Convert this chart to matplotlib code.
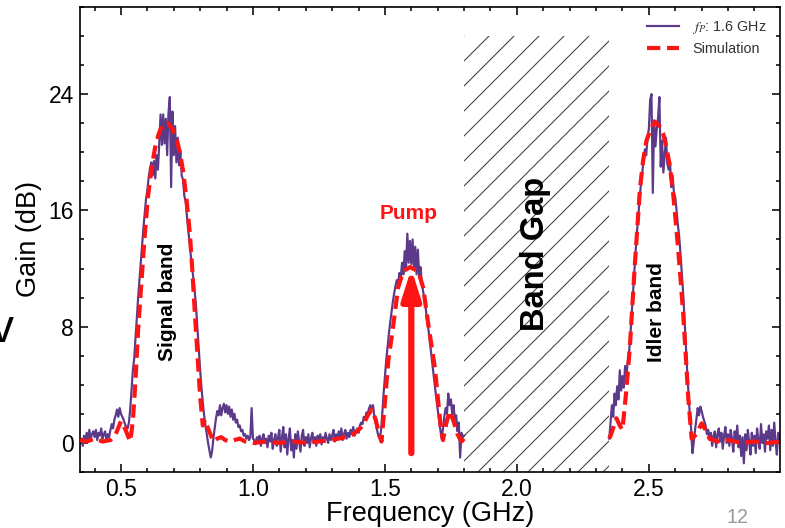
import numpy as np
import matplotlib.pyplot as plt
from matplotlib.patches import FancyArrowPatch
from matplotlib.ticker import MultipleLocator, FormatStrFormatter

plt.rcParams['font.family'] = ['Liberation Sans', 'DejaVu Sans']
plt.rcParams['mathtext.fontset'] = 'stix'
plt.rcParams['hatch.linewidth'] = 0.5

# measured gain, signal side + pump (0.345 .. 1.80 GHz, 5 MHz step)
meas_lo_start = 0.345
meas_lo = [
    0.1,
    0.3, -0.2, 0.5, 0.1, 0.7, 0.2, 0.9, 0.3, 0.6, 0.8,
    0.4, 0.9, 0.2, 0.7, 0.5, 1.0, 0.3, 0.6, 0.8, 0.2,
    0.6, 0.4, 0.9, 1.3, 1.0, 1.6, 1.9, 2.3, 1.8, 2.4,
    2.0, 1.8, 1.6, 1.3, 1.1, 1.0, 1.4, 2.3, 3.6, 5.0,
    5.8, 7.2, 8.6, 10.0, 11.2, 12.5, 13.6, 14.8, 15.8, 16.8,
    17.4, 18.3, 18.9, 19.3, 18.4, 19.4, 18.2, 19.8, 18.8, 20.6,
    22.6, 20.5, 22.6, 20.6, 22.3, 19.8, 22.7, 23.8, 17.6, 22.8,
    19.8, 21.8, 19.3, 21.0, 19.1, 20.0, 18.4, 18.1, 17.0, 16.6,
    15.6, 14.6, 13.8, 12.8, 12.0, 11.2, 10.3, 9.2, 7.8, 6.4,
    5.0, 3.8, 2.8, 1.9, 1.2, 0.6, 0.0, -0.5, -1.0, -0.6,
    0.3, 1.0, 1.7, 2.2, 1.9, 2.6, 1.9, 2.4, 2.7, 2.1,
    2.6, 2.0, 2.5, 1.8, 2.3, 1.6, 2.0, 1.4, 1.6, 1.1,
    1.2, 0.8, 0.9, 0.5, 0.6, 0.3, 0.5, 0.2, 0.4, 2.4,
    0.3, 0.2, -0.1, 0.4, 0.1, 0.5, -0.2, 0.3, 0.6, 0.0,
    0.3, -0.3, 0.5, 0.1, 0.7, -0.4, 0.2, 0.6, -0.2, 0.4,
    0.9, -0.6, 0.4, 1.1, -0.3, 0.6, -0.8, 0.3, 1.0, -0.5,
    0.2, -1.0, 0.6, -0.4, 0.8, 0.1, -0.6, 0.5, 0.9, -0.2,
    0.4, 0.0, 0.6, -0.3, 0.3, 0.7, 0.0, 0.4, -0.2, 0.5,
    0.2, 0.6, -0.1, 0.4, 0.1, 0.7, 0.3, 0.0, 0.6, 0.2,
    0.5, 0.9, 0.1, 0.6, 0.3, 0.8, 0.4, 1.0, 0.2, 0.6,
    0.9, 0.3, 0.7, 0.4, 0.9, 0.6, 1.1, 0.5, 0.8, 1.0,
    0.7, 1.2, 1.4, 1.3, 1.8, 1.6, 2.1, 2.0, 2.4, 2.6,
    2.3, 2.6, 1.8, 1.4, 0.9, 0.5, 0.3, 0.8, 2.0, 3.4,
    4.6, 5.7, 6.6, 7.5, 8.3, 9.0, 9.7, 10.3, 10.8, 11.2,
    11.0, 11.7, 11.4, 12.4, 11.6, 13.2, 12.0, 14.4, 12.4, 13.9,
    12.3, 14.0, 12.0, 13.5, 11.6, 13.3, 11.4, 12.1, 11.0, 10.4,
    9.9, 9.2, 8.4, 7.8, 7.0, 6.2, 5.4, 4.6, 3.8, 3.0,
    2.3, 1.6, 0.9, 0.3, 1.0, 1.8, 2.4, 2.0, 3.4, 2.6,
    3.0, 2.0, 2.6, 1.6, 1.9, 0.8, 1.4, -1.0, 0.7, 0.4,
    0.5,
]

# measured gain, idler side (2.35 .. 3.00 GHz, 5 MHz step)
meas_hi_start = 2.35
meas_hi = [
    0.3, 1.5, 2.6, 1.8, 3.4, 2.6, 3.9, 3.0, 5.0, 3.6,
    4.6, 3.8, 5.3, 4.6, 5.6, 6.2, 7.4, 8.8, 10.3, 11.8,
    13.2, 14.5, 15.6, 16.8, 17.8, 18.6, 19.5, 20.2, 19.8, 21.0,
    21.6, 23.6, 24.0, 17.2, 22.2, 20.4, 21.6, 22.4, 23.8, 19.0,
    20.8, 18.6, 19.8, 21.0, 19.2, 18.8, 19.4, 17.6, 18.4, 17.2,
    16.9, 16.0, 15.0, 14.2, 13.0, 11.6, 10.3, 8.6, 6.8, 5.0,
    3.5, 2.0, 1.0, -0.7, 0.0, 0.9, 1.6, 2.4, 1.9, 2.5,
    2.2, 1.8, 1.5, 1.2, 0.6, 0.9, 0.2, 0.7, -0.2, 0.5,
    0.8, -0.3, 0.6, 1.0, 0.1, 0.7, -0.4, 0.5, 1.1, 0.0,
    0.6, -0.2, 0.9, 0.3, -0.6, 0.8, 0.2, 1.2, -0.3, 0.5,
    -0.9, 0.4, -1.4, 0.6, -0.5, 0.9, 0.1, -0.8, 0.7, -0.2,
    0.5, -0.7, 1.0, 0.2, -0.4, 1.3, 0.0, 0.6, -0.6, 0.8,
    0.3, 1.2, -0.5, 0.9, -0.2, 1.4, 0.1, -0.8, 0.7, 0.2,
    0.4,
]

# simulated gain
sim_lo_f = [0.345, 0.37, 0.40, 0.43, 0.46, 0.48, 0.50, 0.515, 0.535, 0.545,
            0.555, 0.565, 0.578, 0.59, 0.602, 0.615, 0.629, 0.642, 0.654, 0.666,
            0.678, 0.695, 0.711, 0.723, 0.735, 0.748, 0.761, 0.771, 0.78, 0.79,
            0.80, 0.81, 0.818, 0.83, 0.85, 0.865, 0.88, 0.895, 0.913, 0.93,
            0.95, 0.97, 1.0, 1.05, 1.1, 1.15, 1.2, 1.25, 1.3, 1.35,
            1.38, 1.40, 1.417, 1.435, 1.45, 1.465, 1.478, 1.487, 1.50, 1.513,
            1.531, 1.55, 1.569, 1.595, 1.626, 1.645, 1.664, 1.689, 1.70, 1.712,
            1.72, 1.733, 1.746, 1.76, 1.775, 1.79, 1.80]
sim_lo_g = [0.2, 0.1, 0.3, 0.1, 0.2, 0.6, 1.5, 1.0, 0.1, 1.5,
            4.3, 7.8, 11.2, 14.3, 16.9, 18.8, 20.3, 21.2, 21.8, 22.0,
            22.0, 21.6, 20.9, 20.0, 18.75, 16.8, 14.4, 11.7, 8.9, 6.0,
            3.2, 1.2, 1.6, 1.0, 0.1, 0.3, 0.4, 0.2, 0.1, 0.2,
            0.3, 0.1, 0.0, 0.1, 0.0, 0.1, 0.0, 0.1, 0.2, 0.4,
            0.6, 0.9, 1.2, 1.9, 2.3, 1.6, 0.6, 0.1, 2.8, 5.7,
            8.0, 10.7, 11.8, 12.1, 11.8, 10.7, 8.2, 5.2, 3.2, 1.0,
            0.2, 1.4, 2.2, 1.5, 0.6, 0.1, 0.3]
sim_hi_f = [2.35, 2.359, 2.377, 2.39, 2.40, 2.414, 2.428, 2.447, 2.466, 2.478,
            2.491, 2.507, 2.523, 2.54, 2.554, 2.567, 2.58, 2.593, 2.605, 2.618,
            2.63, 2.64, 2.649, 2.662, 2.68, 2.70, 2.715, 2.73, 2.76, 2.80,
            2.85, 2.90, 2.95, 3.0]
sim_hi_g = [0.3, 0.7, 1.7, 1.2, 0.9, 3.5, 6.6, 12.3, 17.4, 19.4,
            20.8, 21.6, 22.1, 21.8, 21.3, 20.3, 19.0, 17.0, 14.6, 11.8,
            8.9, 6.0, 3.2, 0.3, 0.6, 1.35, 0.9, 0.3, 0.1, 0.2,
            0.0, 0.1, 0.0, 0.1]

pump_f = 1.6
pump_arrow = (-0.7, 12.0)
gap = (1.8, 2.35)
gap_top = 28

purple = '#5c3a8a'
red = '#ff1414'

fig = plt.figure(figsize=(785 / 150, 528 / 150), dpi=150)
ax = fig.add_axes([0.102, 0.106, 0.892, 0.881])

ax.fill_between(gap, -2, gap_top, facecolor='none', edgecolor='#404040',
                hatch='//', linewidth=0, zorder=1)

f_lo = meas_lo_start + 0.005 * np.arange(len(meas_lo))
f_hi = meas_hi_start + 0.005 * np.arange(len(meas_hi))
ax.plot(f_lo, meas_lo, color=purple, lw=1.05, zorder=2, label=r'$f_P$: 1.6 GHz')
ax.plot(f_hi, meas_hi, color=purple, lw=1.05, zorder=2)

ax.plot(sim_lo_f, sim_lo_g, color=red, lw=2.0, ls=(0, (3.2, 1.6)), zorder=3,
        label='Simulation')
ax.plot(sim_hi_f, sim_hi_g, color=red, lw=2.0, ls=(0, (3.2, 1.6)), zorder=3)

arr = FancyArrowPatch((pump_f, pump_arrow[0]), (pump_f, pump_arrow[1]),
                      arrowstyle='-|>,head_length=12,head_width=3.8',
                      mutation_scale=1, color=red, lw=3.0,
                      shrinkA=0, shrinkB=0, zorder=4)
ax.add_patch(arr)

ax.text(0.678, 9.7, 'Signal band', rotation=90, fontsize=10, fontweight='bold',
        ha='center', va='center')
ax.text(2.529, 9.0, 'Idler band', rotation=90, fontsize=10, fontweight='bold',
        ha='center', va='center')
ax.text(1.59, 15.8, 'Pump', fontsize=10, fontweight='bold', color=red,
        ha='center', va='center')
ax.text(2.07, 13.0, 'Band Gap', rotation=90, fontsize=15.7, fontweight='bold',
        ha='center', va='center')

ax.set_xlim(0.345, 2.998)
ax.set_ylim(-2, 30)
ax.xaxis.set_major_locator(MultipleLocator(0.5))
ax.xaxis.set_minor_locator(MultipleLocator(0.1))
ax.xaxis.set_major_formatter(FormatStrFormatter('%.1f'))
ax.yaxis.set_major_locator(MultipleLocator(8))
ax.yaxis.set_minor_locator(MultipleLocator(2))
ax.tick_params(which='both', direction='in', top=True, right=True, width=0.75,
               labelsize=11)
ax.tick_params(which='major', length=3.8, pad=2.8)
ax.tick_params(which='minor', length=2.0)
for s in ax.spines.values():
    s.set_linewidth(0.8)

ax.set_xlabel('Frequency (GHz)', fontsize=13, labelpad=0)
ax.set_ylabel('Gain (dB)', fontsize=13, labelpad=3)

leg = ax.legend(loc='upper right', bbox_to_anchor=(0.995, 0.995), frameon=False,
                fontsize=6.9, handlelength=2.2, handletextpad=0.9,
                labelcolor='#333333', borderaxespad=0.3, labelspacing=0.4)

fig.text(0.939, 0.019, '12', fontsize=9.4, color='#999999', ha='center', va='center')
fig.text(0.003, 0.375, 'v', fontsize=22, ha='center', va='center')

fig.savefig('out.png', dpi=150)
